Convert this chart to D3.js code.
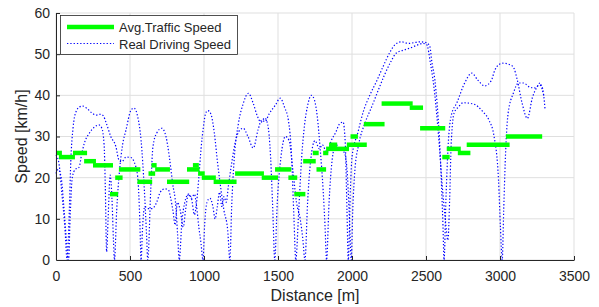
<!DOCTYPE html>
<html>
<head>
<meta charset="utf-8">
<script src="https://cdn.jsdelivr.net/npm/d3@7"></script>
<style>
body { margin: 0; background: #fff; }
text { font-family: "Liberation Sans", Arial, sans-serif; fill: #262626; }
</style>
</head>
<body>
<script>
var width = 599, height = 307;
var margin = {top: 13, right: 25, bottom: 47, left: 56};
var innerWidth = width - margin.left - margin.right;
var innerHeight = height - margin.top - margin.bottom;

//Average traffic speed: one flat piece per road section [m, m, km/h].
var segStart = [0, 20, 115, 190, 250, 365, 400, 425, 550, 625, 645, 670, 750, 885, 925, 960, 985, 1065, 1210, 1390,
	1480, 1570, 1610, 1670, 1735, 1760, 1805, 1825, 1845, 1965, 1990, 2080, 2200, 2390, 2460, 2610, 2640, 2715, 2775, 3040];
var segEnd = [40, 128, 210, 270, 385, 420, 450, 570, 650, 670, 680, 770, 900, 970, 965, 1005, 1080, 1220, 1405, 1500,
	1590, 1630, 1685, 1755, 1775, 1825, 1840, 1980, 1900, 2100, 2040, 2220, 2410, 2480, 2630, 2660, 2735, 2800, 3065, 3285];
var segSpeed = [26, 25, 26, 24, 23, 16, 20, 22, 19, 21, 23, 22, 19, 22, 23, 21, 20, 19, 21, 20,
	22, 20, 16, 24, 26, 22, 26, 27, 28, 28, 30, 33, 38, 37, 32, 25, 27, 26, 28, 30];

//Real driving speed, first run.
var dist1 = [0, 20, 40, 60, 75, 90, 100, 115, 135, 160, 180, 210, 240, 270, 300, 320, 340, 370, 405, 425,
	445, 473, 505, 527, 552, 566, 575, 585, 600, 620, 650, 680, 705, 735, 760, 775, 790, 805, 820, 840,
	860, 875, 895, 915, 935, 950, 965, 980, 993, 1005, 1020, 1040, 1060, 1075, 1090, 1105, 1120, 1135, 1150, 1165,
	1187, 1210, 1243, 1265, 1297, 1333, 1365, 1390, 1412, 1440, 1480, 1515, 1545, 1570, 1592, 1608, 1620, 1640, 1660, 1680,
	1700, 1725, 1745, 1765, 1785, 1805, 1818, 1828, 1845, 1865, 1890, 1920, 1950, 1970, 1985, 1995, 2005, 2020, 2045, 2090,
	2133, 2178, 2220, 2260, 2300, 2350, 2400, 2440, 2480, 2505, 2530, 2560, 2585, 2610, 2630, 2648, 2660, 2670, 2690, 2720,
	2750, 2820, 2885, 2925, 2960, 2990, 3003, 3015, 3025, 3035, 3055, 3090, 3125, 3160, 3200, 3235, 3265, 3285, 3305];
var speed1 = [25.5, 23.5, 16, 8, 0, 12, 24, 32, 36, 37.2, 37.4, 36.8, 35.8, 35.2, 35.4, 35, 33.2, 30, 27.5, 24.3,
	23.9, 25, 24.9, 23.9, 20.2, 10, 0, 8, 13, 12.5, 12.5, 14, 16.5, 17.3, 17, 15, 12, 8.5, 14, 12,
	8, 12, 16, 15, 16, 13, 8, 4, 0, 9, 14, 15, 13, 10, 13, 16.5, 13, 15.4, 14, 18,
	23.5, 28.4, 31.6, 32, 30, 27.2, 31.6, 34, 33.6, 35.5, 37.5, 39.3, 37, 34, 25, 10, 0, 12, 25, 33,
	37.5, 40, 39, 35, 27, 17, 8, 0, 14, 24, 28, 27, 26, 20, 8, 0, 12, 22, 28, 33.5,
	37.2, 41.3, 45, 48, 50.3, 51, 51.6, 52.2, 52.6, 52.3, 47.8, 40, 30, 18, 10, 4.8, 15, 28, 35.7, 37.2,
	38.2, 37.9, 36, 34, 30, 19.4, 8, 0, 12, 23.5, 35.7, 40.5, 43, 43, 42, 41.8, 42.5, 42, 36.4];

//Real driving speed, second run.
var dist2 = [0, 15, 35, 55, 70, 85, 95, 110, 130, 155, 175, 191, 225, 260, 290, 310, 325, 333, 342, 352,
	366, 378, 388, 395, 410, 430, 450, 473, 507, 527, 552, 575, 597, 612, 620, 640, 655, 680, 715, 743,
	766, 788, 810, 822, 833, 850, 870, 895, 915, 935, 950, 965, 980, 995, 1010, 1025, 1045, 1070, 1092, 1115,
	1135, 1160, 1175, 1187, 1205, 1232, 1265, 1300, 1333, 1360, 1385, 1410, 1430, 1450, 1465, 1478, 1495, 1520, 1550, 1575,
	1600, 1625, 1650, 1668, 1682, 1700, 1720, 1750, 1780, 1800, 1830, 1860, 1890, 1915, 1940, 1955, 1966, 1975, 1990, 2000,
	2040, 2076, 2120, 2167, 2210, 2257, 2290, 2335, 2380, 2420, 2460, 2500, 2525, 2540, 2560, 2575, 2590, 2605, 2615, 2622,
	2635, 2650, 2670, 2710, 2760, 2810, 2850, 2895, 2940, 2965, 2990, 3020, 3070, 3095, 3115, 3150, 3185, 3220, 3250, 3270,
	3285, 3295];
var speed2 = [21, 22, 20, 12, 5, 0, 10, 20, 22, 22.5, 26, 28.3, 30.8, 32.3, 32.8, 32, 28, 18, 2, 10,
	20.6, 15, 5, 0, 12, 22, 28, 31.6, 36.4, 36.9, 34.8, 29, 17, 6, 0, 17, 27.5, 30.8, 32, 30,
	25, 18.6, 13, 6, 0, 9, 14, 16, 15, 11, 14, 20, 27, 32, 35.5, 36.3, 35.6, 30.8, 23.5, 17,
	12, 7.3, 0, 13, 25, 33, 38, 40.5, 38, 35, 33.5, 34.5, 33, 25, 12, 0, 14, 25, 30, 29,
	22, 14, 10, 5, 0, 14, 24, 29, 27, 28, 26, 29, 31, 33, 33.5, 28, 12, 0, 18, 25,
	31, 36, 40, 43.5, 47, 50.5, 52.3, 53, 52.6, 52.8, 53, 52.8, 52, 48, 43.7, 38, 30, 18, 8, 0,
	15, 28, 35, 38.3, 42.9, 45.4, 43.7, 42.3, 43.5, 46.1, 47.4, 47.8, 47.4, 46.5, 44, 38, 34.4, 39.6, 42, 43,
	41.5, 40];

var xTicks = [0, 500, 1000, 1500, 2000, 2500, 3000, 3500];
var yTicks = [0, 10, 20, 30, 40, 50, 60];

var svg = d3.select('body').append('svg')
	.attr('width', width)
	.attr('height', height);
var inner = svg.append('g')
	.attr('transform', 'translate(' + margin.left + ',' + margin.top + ')');

var xScale = d3.scaleLinear().domain([0, 3500]).range([0, innerWidth]);
var yScale = d3.scaleLinear().domain([0, 60]).range([innerHeight, 0]);

//Grid first, so the data sits on top of it.
inner.selectAll('.vgrid').data(xTicks).enter().append('line')
	.attr('x1', function(d) { return xScale(d); })
	.attr('x2', function(d) { return xScale(d); })
	.attr('y1', 0).attr('y2', innerHeight)
	.style('stroke', '#dfdfdf').style('stroke-width', 1);
inner.selectAll('.hgrid').data(yTicks).enter().append('line')
	.attr('y1', function(d) { return yScale(d); })
	.attr('y2', function(d) { return yScale(d); })
	.attr('x1', 0).attr('x2', innerWidth)
	.style('stroke', '#dfdfdf').style('stroke-width', 1);

var line = d3.line()
	.x(function(d) { return xScale(d[0]); })
	.y(function(d) { return yScale(d[1]); })
	.curve(d3.curveMonotoneX);

[[dist1, speed1], [dist2, speed2]].forEach(function(run) {
	inner.append('path')
		.datum(d3.zip(run[0], run[1]))
		.attr('d', line)
		.style('fill', 'none')
		.style('stroke', '#0000ff')
		.style('stroke-width', 1.2)
		.style('stroke-dasharray', '1.3,2');
});

inner.selectAll('.seg').data(d3.range(segSpeed.length)).enter().append('line')
	.attr('x1', function(i) { return xScale(segStart[i]); })
	.attr('x2', function(i) { return xScale(segEnd[i]); })
	.attr('y1', function(i) { return yScale(segSpeed[i]); })
	.attr('y2', function(i) { return yScale(segSpeed[i]); })
	.style('stroke', '#00ff00')
	.style('stroke-width', 4.5);

//Axes with inward ticks, like the original.
var xAxis = inner.append('g')
	.attr('transform', 'translate(0,' + innerHeight + ')')
	.call(d3.axisBottom(xScale).tickValues(xTicks).tickFormat(d3.format('d'))
		.tickSize(-4).tickSizeOuter(0).tickPadding(11));
var yAxis = inner.append('g')
	.call(d3.axisLeft(yScale).tickValues(yTicks).tickFormat(d3.format('d'))
		.tickSize(-4).tickSizeOuter(0).tickPadding(6));
[xAxis, yAxis].forEach(function(ax) {
	ax.select('.domain').style('stroke', '#262626');
	ax.selectAll('.tick line').style('stroke', '#262626');
	ax.selectAll('.tick text')
		.style('font-family', '"Liberation Sans", Arial, sans-serif')
		.style('font-size', '14px')
		.style('fill', '#262626');
});
xAxis.select('.tick:first-of-type line').remove();
yAxis.select('.tick:first-of-type line').remove();

svg.append('text')
	.attr('x', margin.left + innerWidth / 2)
	.attr('y', 301)
	.attr('text-anchor', 'middle')
	.style('font-size', '16px')
	.text('Distance [m]');
svg.append('text')
	.attr('transform', 'translate(27,' + (margin.top + innerHeight / 2) + ') rotate(-90)')
	.attr('text-anchor', 'middle')
	.style('font-size', '16px')
	.text('Speed [km/h]');

//Legend.
var legend = svg.append('g');
legend.append('rect')
	.attr('x', 60.5).attr('y', 15.5)
	.attr('width', 177).attr('height', 39)
	.style('fill', '#fff')
	.style('stroke', '#262626')
	.style('stroke-width', 0.8);
legend.append('line')
	.attr('x1', 67).attr('x2', 114).attr('y1', 27).attr('y2', 27)
	.style('stroke', '#00ff00').style('stroke-width', 4.5);
legend.append('line')
	.attr('x1', 67).attr('x2', 114).attr('y1', 43.5).attr('y2', 43.5)
	.style('stroke', '#0000ff').style('stroke-width', 1.2).style('stroke-dasharray', '1.3,2');
legend.append('text').attr('x', 119).attr('y', 32).style('font-size', '13px').text('Avg.Traffic Speed');
legend.append('text').attr('x', 119).attr('y', 48.5).style('font-size', '13px').text('Real Driving Speed');
</script>
</body>
</html>
